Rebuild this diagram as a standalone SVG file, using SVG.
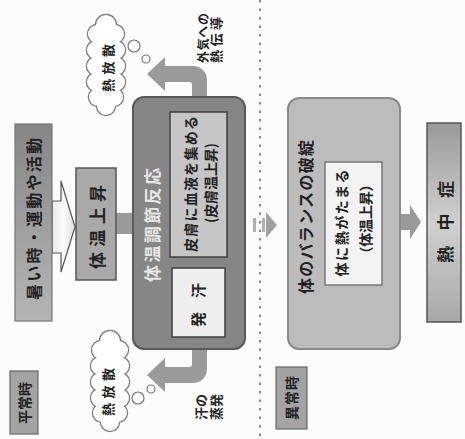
<svg xmlns="http://www.w3.org/2000/svg" xmlns:xlink="http://www.w3.org/1999/xlink" width="465" height="439" viewBox="0 0 465 439">
<style>
.t{font-family:"Noto Sans CJK JP","Noto Sans CJK SC",sans-serif;font-weight:bold;text-anchor:middle;dominant-baseline:central;fill:#222}
.lt{fill:#e6e6e6}
.garrow{fill:#9a9a9a;stroke:none}
.lbl{fill:#a3a3a3;stroke:#666;stroke-width:1.2}
.bubble{fill:#fff;stroke:#777;stroke-width:1.2}
</style>
<defs>
<linearGradient id="gA" x1="0" y1="0" x2="0" y2="1">
<stop offset="0" stop-color="#858585"/><stop offset="0.6" stop-color="#a3a3a3"/><stop offset="1" stop-color="#b5b5b5"/>
</linearGradient>
<linearGradient id="gB" x1="0" y1="0" x2="0" y2="1">
<stop offset="0" stop-color="#9a9a9a"/><stop offset="0.5" stop-color="#d0d0d0"/><stop offset="1" stop-color="#a8a8a8"/>
</linearGradient>
<linearGradient id="gW" x1="0" y1="0" x2="1" y2="0">
<stop offset="0" stop-color="#e8e8e8"/><stop offset="0.5" stop-color="#fafafa"/><stop offset="1" stop-color="#e0e0e0"/>
</linearGradient>
<g id="cloudShape">
<circle cx="0" cy="-41" r="10"/><circle cx="-9" cy="-32" r="9"/><circle cx="9" cy="-32" r="9"/>
<circle cx="-10" cy="-16" r="9"/><circle cx="10" cy="-16" r="9"/><circle cx="-10" cy="0" r="9"/>
<circle cx="10" cy="0" r="9"/><circle cx="-10" cy="16" r="9"/><circle cx="10" cy="16" r="9"/>
<circle cx="-8" cy="31" r="9"/><circle cx="8" cy="31" r="9"/><circle cx="0" cy="40" r="9"/>
<ellipse cx="0" cy="0" rx="14" ry="40"/>
</g>
</defs>
<rect width="465" height="439" fill="#fcfcfc"/>

<g id="connectors">
<!-- outlined arrow: 暑い時 -> 体温上昇 -->
<path d="M52,201 L61,201 L61,181 L75,227 L61,272 L61,253 L52,253 Z" fill="url(#gW)" stroke="#555" stroke-width="1.2"/>
<!-- 体温上昇 -> 体温調節反応 -->
<rect x="115" y="213" width="20" height="21" class="garrow"/>
<!-- top curved arrow -->
<path d="M192,98 L192,85 Q192,82 189,82 L165,82 L165,91 L147,74 L165,57 L165,66 L193,66 A14,14 0 0 1 207,80 L207,98 Z" class="garrow"/>
<!-- bottom curved arrow -->
<path d="M192,349 L192,364 Q192,367 189,367 L165,367 L165,358 L147,375 L165,392 L165,383 L193,383 A14,14 0 0 0 207,369 L207,349 Z" class="garrow"/>
<!-- separator dotted line -->
<line x1="260" y1="0" x2="260" y2="439" stroke="#8a8a8a" stroke-width="2" stroke-dasharray="2.5,6"/>
<!-- transition arrow -->
<rect x="253" y="218" width="3" height="14" fill="#b0b0b0"/>
<rect x="262" y="218" width="3" height="14" fill="#b0b0b0"/>
<polygon points="266,212 277,225 266,238" fill="#a0a0a0"/>
<!-- 破綻 -> 熱中症 -->
<path d="M400,214 L410,214 L410,205 L421,222 L410,239 L410,230 L400,230 Z" class="garrow"/>
</g>

<g id="heijouji">
<rect x="10" y="371" width="28" height="63" class="lbl"/>
<text class="t" font-size="14" transform="translate(24,403) rotate(-90)" textLength="42" lengthAdjust="spacing">平常時</text>
</g>

<g id="atsui">
<rect x="15" y="124" width="37" height="197" fill="url(#gA)" stroke="#777" stroke-width="1.2"/>
<text class="t" font-size="16" transform="translate(33,219) rotate(-90)" textLength="162" lengthAdjust="spacing">暑い時・運動や活動</text>
</g>

<g id="taion-joushou">
<rect x="76" y="168" width="40" height="112" fill="#a9a9a9" stroke="#555" stroke-width="1.5"/>
<text class="t" font-size="17" transform="translate(96,227) rotate(-90)" textLength="84" lengthAdjust="spacing">体温上昇</text>
</g>

<g id="chousetsu">
<rect x="133" y="97" width="112" height="252" rx="11" fill="#868686" stroke="#595959" stroke-width="2"/>
<text class="t lt" font-size="17" transform="translate(151,225) rotate(-90)" textLength="114" lengthAdjust="spacing">体温調節反応</text>
</g>

<g id="hifu">
<rect x="170" y="112" width="57" height="145" fill="#c6c6c6" stroke="#3f3f3f" stroke-width="1.5"/>
<text class="t" font-size="14" transform="translate(190,184) rotate(-90)" textLength="136" lengthAdjust="spacing">皮膚に血液を集める</text>
<text class="t" font-size="14" transform="translate(210,183) rotate(-90)" textLength="80" lengthAdjust="spacing">(皮膚温上昇)</text>
</g>

<g id="hakkan">
<rect x="172" y="268" width="53" height="69" fill="#eeeeee" stroke="#3f3f3f" stroke-width="1.5"/>
<text class="t" font-size="15" font-weight="normal" transform="translate(197,305) rotate(-90)" textLength="44" lengthAdjust="spacing">発汗</text>
</g>

<g id="cloud-top">
<use xlink:href="#cloudShape" transform="translate(106,66)" fill="#fff" stroke="#777" stroke-width="2.4"/>
<use xlink:href="#cloudShape" transform="translate(106,66)" fill="#fff" stroke="none"/>
<circle cx="134" cy="46" r="6" class="bubble"/>
<circle cx="146" cy="59" r="4" class="bubble"/>
<text class="t" font-size="13" transform="translate(107,68) rotate(-90)" textLength="48" lengthAdjust="spacing">熱放散</text>
</g>

<g id="cloud-bottom">
<use xlink:href="#cloudShape" transform="translate(110,382)" fill="#fff" stroke="#777" stroke-width="2.4"/>
<use xlink:href="#cloudShape" transform="translate(110,382)" fill="#fff" stroke="none"/>
<circle cx="138" cy="398" r="6" class="bubble"/>
<circle cx="151" cy="389" r="4" class="bubble"/>
<text class="t" font-size="13" transform="translate(107,392) rotate(-90)" textLength="48" lengthAdjust="spacing">熱放散</text>
</g>

<g id="label-gaiki">
<text class="t" font-size="12" transform="translate(202,38) rotate(-90)" textLength="50" lengthAdjust="spacing">外気への</text>
<text class="t" font-size="13" transform="translate(215,40) rotate(-90)" textLength="46" lengthAdjust="spacing">熱伝導</text>
</g>

<g id="label-ase">
<text class="t" font-size="13" font-weight="normal" transform="translate(200,407) rotate(-90)">汗の</text>
<text class="t" font-size="13" font-weight="normal" transform="translate(215,407) rotate(-90)">蒸発</text>
</g>

<g id="ijouji">
<rect x="276" y="367" width="31" height="62" class="lbl"/>
<text class="t" font-size="14" transform="translate(291,398) rotate(-90)" textLength="44" lengthAdjust="spacing">異常時</text>
</g>

<g id="hatan">
<rect x="288" y="98" width="112" height="251" rx="11" fill="#bcbcbc" stroke="#8a8a8a" stroke-width="2"/>
<text class="t" font-size="16" transform="translate(305,217) rotate(-90)" textLength="154" lengthAdjust="spacing">体のバランスの破綻</text>
</g>

<g id="netsu-tamaru">
<rect x="325" y="162" width="57" height="123" fill="#f3f3f3" stroke="#777" stroke-width="1.5"/>
<text class="t" font-size="14" transform="translate(341,223) rotate(-90)" textLength="107" lengthAdjust="spacing">体に熱がたまる</text>
<text class="t" font-size="14" transform="translate(365,219) rotate(-90)" textLength="83" lengthAdjust="spacing">（体温上昇）</text>
</g>

<g id="necchuushou">
<rect x="427" y="123" width="34" height="199" fill="url(#gB)" stroke="#555" stroke-width="1.5"/>
<text class="t" font-size="17" transform="translate(444,222) rotate(-90)" textLength="82" lengthAdjust="spacing">熱中症</text>
</g>
</svg>
